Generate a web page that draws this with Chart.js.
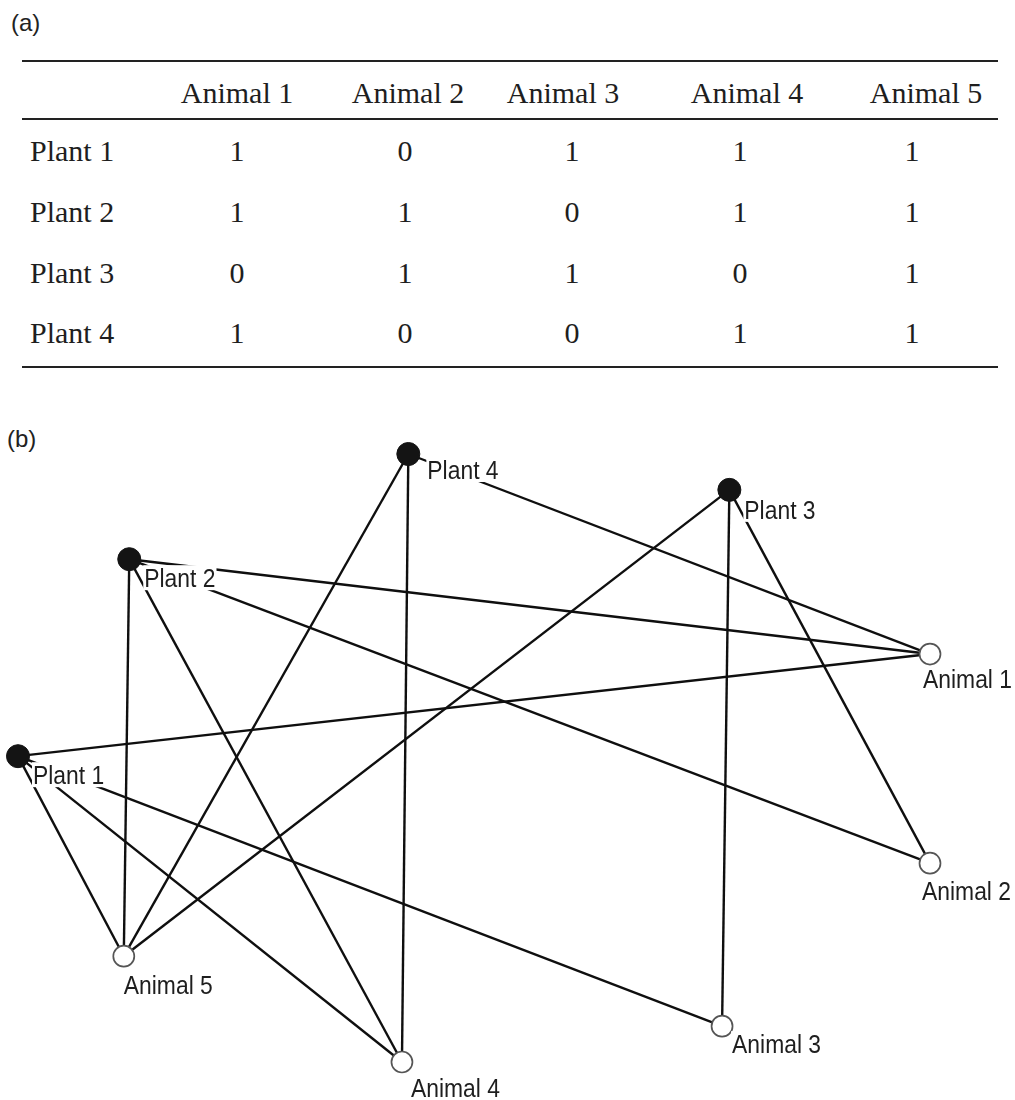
<!DOCTYPE html>
<html>
<head>
<meta charset="utf-8">
<title>Plant–animal interaction network</title>
<script src="https://cdn.jsdelivr.net/npm/chart.js@4.4.1/dist/chart.umd.min.js"></script>
<style>
  html, body { margin: 0; padding: 0; background: #fff; }
  #page { position: relative; width: 1015px; height: 1100px; overflow: hidden; background: #fff; }
  .tag { position: absolute; font-family: "Liberation Sans", Arial, sans-serif; font-size: 24px; line-height: 24px; color: #222; }
  .rule { position: absolute; left: 22px; width: 976px; height: 2px; background: #222; }
  .cell { position: absolute; font-family: "Liberation Serif", "Times New Roman", serif; font-size: 30px; line-height: 30px; color: #1e1e1e; white-space: nowrap; }
  .cell.c { transform: translateX(-50%); }
  #net { position: absolute; left: 0; top: 420px; }
</style>
</head>
<body>
<div id="page">
  <div class="tag" style="left:11px;top:11px;">(a)</div>
  <div class="tag" style="left:7px;top:427px;">(b)</div>
  <div id="table"></div>
  <canvas id="net" width="1015" height="680"></canvas>
</div>
<script>
// ---- data ----
const plants  = ['Plant 1', 'Plant 2', 'Plant 3', 'Plant 4'];
const animals = ['Animal 1', 'Animal 2', 'Animal 3', 'Animal 4', 'Animal 5'];

// interaction matrix rows (1 = plant is visited by animal)
const plant1Links = [1, 0, 1, 1, 1];
const plant2Links = [1, 1, 0, 1, 1];
const plant3Links = [0, 1, 1, 0, 1];
const plant4Links = [1, 0, 0, 1, 1];
const links = [plant1Links, plant2Links, plant3Links, plant4Links];

// network layout coordinates (unit square)
const plantX  = [0.000, 0.122, 0.780, 0.428];
const plantY  = [0.503, 0.827, 0.941, 1.000];
const animalX = [1.000, 1.000, 0.772, 0.421, 0.116];
const animalY = [0.671, 0.327, 0.059, 0.000, 0.174];

// ---- table (a) ----
const headerCenters = [237, 408, 563, 747, 926];
const valueCenters  = [237, 405, 572, 740, 912];
const headerBaseline = 103;
const rowBaselines = [161, 222, 283, 343];
const ruleTops = [60, 118, 366];
const SERIF_ASCENT = 25;

const table = document.getElementById('table');
function addCell(text, x, baseline, centred) {
  const d = document.createElement('div');
  d.className = 'cell' + (centred ? ' c' : '');
  d.textContent = text;
  d.style.left = x + 'px';
  d.style.top = (baseline - SERIF_ASCENT) + 'px';
  table.appendChild(d);
}
ruleTops.forEach(t => {
  const r = document.createElement('div');
  r.className = 'rule';
  r.style.top = t + 'px';
  table.appendChild(r);
});
animals.forEach((a, j) => addCell(a, headerCenters[j], headerBaseline, true));
plants.forEach((p, i) => {
  addCell(p, 30, rowBaselines[i], false);
  links[i].forEach((v, j) => addCell(String(v), valueCenters[j], rowBaselines[i], true));
});

// ---- network (b) ----
const plantLabelOffset  = [[15, 28], [15, 28], [15, 29], [19, 25]];
const animalLabelOffset = [[-7, 34], [-8, 37], [10, 27], [9, 35], [0, 38]];

const datasets = [
  {
    label: 'plants',
    data: plants.map((n, i) => ({ x: plantX[i], y: plantY[i] })),
    showLine: false,
    pointRadius: 11.5,
    pointBackgroundColor: '#141414',
    pointBorderColor: '#141414',
    pointBorderWidth: 1,
    clip: false,
    order: 0
  },
  {
    label: 'animals',
    data: animals.map((n, j) => ({ x: animalX[j], y: animalY[j] })),
    showLine: false,
    pointRadius: 10.5,
    pointBackgroundColor: '#ffffff',
    pointBorderColor: '#555555',
    pointBorderWidth: 1.7,
    clip: false,
    order: 0
  }
];
links.forEach((row, i) => {
  row.forEach((v, j) => {
    if (!v) return;
    datasets.push({
      label: plants[i] + ' – ' + animals[j],
      data: [{ x: plantX[i], y: plantY[i] }, { x: animalX[j], y: animalY[j] }],
      showLine: true,
      borderColor: '#0f0f0f',
      borderWidth: 2.4,
      pointRadius: 0,
      fill: false,
      clip: false,
      order: 2
    });
  });
});

// node names on a white ground, so edges passing beneath are hidden
const nodeLabels = {
  id: 'nodeLabels',
  afterDatasetsDraw(chart) {
    const ctx = chart.ctx;
    const groups = [
      { meta: chart.getDatasetMeta(0), names: plants, off: plantLabelOffset },
      { meta: chart.getDatasetMeta(1), names: animals, off: animalLabelOffset }
    ];
    const sx = 0.88, cap = 19;
    ctx.save();
    ctx.font = '26px "Liberation Sans", Arial, sans-serif';
    ctx.textBaseline = 'alphabetic';
    ctx.textAlign = 'left';
    groups.forEach(g => {
      g.meta.data.forEach((pt, k) => {
        const x = pt.x + g.off[k][0];
        const base = pt.y + g.off[k][1];
        const w = ctx.measureText(g.names[k]).width * sx;
        ctx.fillStyle = '#ffffff';
        ctx.fillRect(x - 1, base - cap - 3, w + 2, cap + 6);
        ctx.save();
        ctx.translate(x, base);
        ctx.scale(sx, 1);
        ctx.fillStyle = '#1e1e1e';
        ctx.fillText(g.names[k], 0, 0);
        ctx.restore();
      });
    });
    ctx.restore();
  }
};

new Chart(document.getElementById('net'), {
  type: 'scatter',
  data: { datasets },
  options: {
    responsive: false,
    animation: false,
    events: [],
    layout: { padding: { left: 18, right: 85, top: 34, bottom: 38 } },
    scales: {
      x: { type: 'linear', min: 0, max: 1, display: false },
      y: { type: 'linear', min: 0, max: 1, display: false }
    },
    plugins: {
      legend: { display: false },
      tooltip: { enabled: false },
      title: { display: false }
    }
  },
  plugins: [nodeLabels]
});
</script>
</body>
</html>
